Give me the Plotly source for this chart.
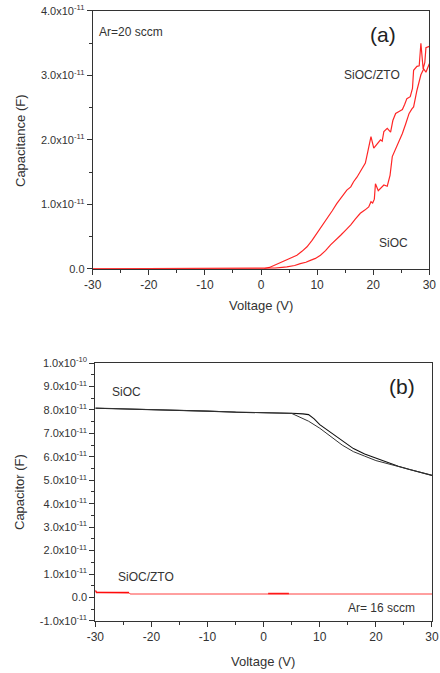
import plotly.graph_objects as go

SCALE = 1e-11

# ---- Panel (a): Ar = 20 sccm ----
a_ztx_v = [-30, -20, -10, 0, 0.5, 1.5, 2.3, 3.5, 4.6, 5.5, 6.4, 7.3, 8.2, 9.1, 10, 10.9, 11.8, 12.7,
           13.5, 14.4, 15.3, 16.0, 16.5, 17.1, 17.7, 18.2, 18.6, 19.0, 19.3, 19.6, 20.1, 20.7, 21.3,
           21.6, 21.9, 22.5, 23.1, 23.5, 24.0, 24.6, 25.2, 25.6, 26.0, 26.6, 27.0, 27.2, 27.8, 28.2,
           28.5, 28.9, 29.2, 29.4, 30]
a_ztx_c = [0, 0, 0, 0, 0.0, 0.02, 0.05, 0.09, 0.13, 0.17, 0.21, 0.27, 0.34, 0.44, 0.55, 0.66, 0.78, 0.90,
           1.01, 1.12, 1.22, 1.27, 1.35, 1.42, 1.51, 1.58, 1.64, 1.80, 1.95, 2.05, 1.87, 1.93, 2.00,
           1.98, 2.13, 2.18, 2.12, 2.30, 2.41, 2.44, 2.47, 2.55, 2.64, 2.67, 2.80, 3.08, 3.14, 3.15,
           3.50, 3.10, 3.20, 3.43, 3.45]

a_sioc_v = [-30, -20, -10, 0, 1.0, 2.5, 4.6, 6, 7, 8, 8.8, 9.7, 10.6, 11.5, 12.4, 13.3, 14.2, 15.1, 16,
            16.8, 17.7, 18.5, 19.2, 19.6, 19.9, 20.2, 20.4, 20.9, 21.4, 21.9, 22.5, 23.0, 23.4, 24.3,
            25.2, 25.8, 26.4, 26.9, 27.2, 27.8, 28.5, 29.0, 29.4, 30]
a_sioc_c = [0, 0, 0, 0, 0, 0.01, 0.03, 0.05, 0.08, 0.10, 0.13, 0.16, 0.21, 0.28, 0.37, 0.44, 0.52, 0.60, 0.68,
            0.77, 0.86, 0.91, 0.96, 1.04, 1.02, 1.08, 1.32, 1.21, 1.26, 1.30, 1.28, 1.45, 1.74, 1.92,
            2.10, 2.25, 2.41, 2.48, 2.51, 2.77, 3.01, 3.10, 3.05, 3.18]

a_yticks = [0, 1, 2, 3, 4]
a_yticktext = ["0.0", "1.0x10<sup>-11</sup>", "2.0x10<sup>-11</sup>",
               "3.0x10<sup>-11</sup>", "4.0x10<sup>-11</sup>"]

# ---- Panel (b): Ar = 16 sccm ----
b_sioc_fwd_v = [-30, -25, -20, -15, -10, -5, 0, 5, 7, 8, 9, 10, 12, 14, 16, 18, 20, 22, 24, 26, 28, 30]
b_sioc_fwd_c = [8.07, 8.04, 8.02, 8.00, 7.95, 7.90, 7.89, 7.86, 7.83, 7.80, 7.62, 7.37, 7.03, 6.68,
                6.35, 6.12, 5.94, 5.76, 5.60, 5.46, 5.33, 5.21]
b_sioc_rev_v = [30, 28, 26, 24, 22, 20, 18, 16, 14, 12, 10, 8, 6, 5, 0, -10, -20, -30]
b_sioc_rev_c = [5.21, 5.33, 5.45, 5.59, 5.72, 5.84, 6.03, 6.22, 6.50, 6.88, 7.22, 7.52, 7.76, 7.85,
                7.88, 7.94, 8.03, 8.08]

b_zto_fwd_v = [-30, -29.8, -24, -23.8, 30]
b_zto_fwd_c = [0.30, 0.22, 0.21, 0.15, 0.15]
b_zto_rev_v = [4.5, 0.8]
b_zto_rev_c = [0.17, 0.17]

b_yticks = [-1, 0, 1, 2, 3, 4, 5, 6, 7, 8, 9, 10]
b_yticktext = ["-1.0x10<sup>-11</sup>", "0.0"] + \
    ["%d.0x10<sup>-11</sup>" % k for k in range(1, 10)] + ["1.0x10<sup>-10</sup>"]

x_ticks = [-30, -20, -10, 0, 10, 20, 30]
x_ticktext = ["-30", "-20", "-10", "0", "10", "20", "30"]

RED = "rgba(255,0,0,0.85)"
FONT = "Liberation Sans, Arial, sans-serif"

def s(lst):
    return [v * SCALE for v in lst]

fig = go.Figure()
fig.add_trace(go.Scatter(x=a_ztx_v, y=s(a_ztx_c), mode="lines", line=dict(color=RED, width=1.2),
                         xaxis="x", yaxis="y", showlegend=False))
fig.add_trace(go.Scatter(x=a_sioc_v, y=s(a_sioc_c), mode="lines", line=dict(color=RED, width=1.2),
                         xaxis="x", yaxis="y", showlegend=False))

fig.add_trace(go.Scatter(x=b_sioc_fwd_v, y=s(b_sioc_fwd_c), mode="lines",
                         line=dict(color="#111111", width=1.1), xaxis="x2", yaxis="y2", showlegend=False))
fig.add_trace(go.Scatter(x=b_sioc_rev_v, y=s(b_sioc_rev_c), mode="lines",
                         line=dict(color="#333333", width=1.0), xaxis="x2", yaxis="y2", showlegend=False))
fig.add_trace(go.Scatter(x=b_zto_fwd_v, y=s(b_zto_fwd_c), mode="lines",
                         line=dict(color="rgba(255,0,0,0.75)", width=1.0), xaxis="x2", yaxis="y2",
                         showlegend=False))
fig.add_trace(go.Scatter(x=b_zto_rev_v, y=s(b_zto_rev_c), mode="lines",
                         line=dict(color=RED, width=1.6), xaxis="x2", yaxis="y2", showlegend=False))
fig.add_trace(go.Scatter(x=b_zto_fwd_v[:3], y=s(b_zto_fwd_c[:3]), mode="lines",
                         line=dict(color=RED, width=1.6), xaxis="x2", yaxis="y2", showlegend=False))

tickfont = dict(family=FONT, size=11, color="#333333")
common_x = dict(range=[-30, 30], tickvals=x_ticks, ticktext=x_ticktext, ticks="outside", ticklen=5,
                tickwidth=1, tickcolor="#333", showline=True, linecolor="#333", linewidth=1, mirror=True,
                showgrid=False, zeroline=False, tickfont=dict(family=FONT, size=12, color="#333333"),
                automargin=False,
                minor=dict(dtick=5, tick0=-30, ticks="outside", ticklen=3, tickcolor="#333"))
common_y = dict(ticks="outside", ticklen=5, tickwidth=1, tickcolor="#333", showline=True,
                linecolor="#333", linewidth=1, mirror=True, showgrid=False, zeroline=False,
                tickfont=tickfont, automargin=False)

fig.update_layout(
    width=440, height=673, autosize=False,
    margin=dict(l=0, r=0, t=0, b=0, pad=0, autoexpand=False),
    plot_bgcolor="white", paper_bgcolor="white",
    xaxis=dict(domain=[0.2107, 0.9757], anchor="y", **common_x),
    yaxis=dict(domain=[0.6007, 0.9837], anchor="x", range=[0, 4 * SCALE],
               tickvals=s(a_yticks), ticktext=a_yticktext,
               minor=dict(dtick=0.5 * SCALE, tick0=0, ticks="outside", ticklen=3, tickcolor="#333"),
               **common_y),
    xaxis2=dict(domain=[0.2166, 0.9818], anchor="y2", **common_x),
    yaxis2=dict(domain=[0.0773, 0.4606], anchor="x2", range=[-1 * SCALE, 10 * SCALE],
                tickvals=s(b_yticks), ticktext=b_yticktext,
                minor=dict(dtick=0.5 * SCALE, tick0=0, ticks="outside", ticklen=3, tickcolor="#333"),
                **common_y),
)

tf = dict(family=FONT, size=12, color="#333333")
ann = [
    # axis titles
    dict(text="Capacitance (F)", x=20, y=141, textangle=-90, font=dict(family=FONT, size=13, color="#333")),
    dict(text="Voltage (V)", x=261, y=306, font=dict(family=FONT, size=13, color="#333")),
    dict(text="Capacitor (F)", x=20, y=492, textangle=-90, font=dict(family=FONT, size=13, color="#333")),
    dict(text="Voltage (V)", x=263, y=661, font=dict(family=FONT, size=13, color="#333")),
]
annotations = []
for a in ann:
    annotations.append(dict(text=a["text"], x=a["x"] / 440, y=1 - a["y"] / 673, xref="paper", yref="paper",
                            showarrow=False, textangle=a.get("textangle", 0), font=a["font"],
                            xanchor="center", yanchor="middle"))

# in-plot labels (data coordinates)
annotations += [
    dict(text="Ar=20 sccm", x=-29.2, y=3.67 * SCALE, xref="x", yref="y", xanchor="left", yanchor="middle",
         showarrow=False, font=tf),
    dict(text="(a)", x=21.7, y=3.63 * SCALE, xref="x", yref="y", xanchor="center", yanchor="middle",
         showarrow=False, font=dict(family=FONT, size=21, color="#222")),
    dict(text="SiOC/ZTO", x=19.8, y=3.0 * SCALE, xref="x", yref="y", xanchor="center", yanchor="middle",
         showarrow=False, font=tf),
    dict(text="SiOC", x=23.6, y=0.40 * SCALE, xref="x", yref="y", xanchor="center", yanchor="middle",
         showarrow=False, font=tf),
    dict(text="SiOC", x=-24.5, y=8.78 * SCALE, xref="x2", yref="y2", xanchor="center", yanchor="middle",
         showarrow=False, font=tf),
    dict(text="SiOC/ZTO", x=-20.9, y=0.88 * SCALE, xref="x2", yref="y2", xanchor="center", yanchor="middle",
         showarrow=False, font=tf),
    dict(text="Ar= 16 sccm", x=21.0, y=-0.44 * SCALE, xref="x2", yref="y2", xanchor="center", yanchor="middle",
         showarrow=False, font=tf),
    dict(text="(b)", x=24.7, y=8.99 * SCALE, xref="x2", yref="y2", xanchor="center", yanchor="middle",
         showarrow=False, font=dict(family=FONT, size=21, color="#222")),
]
fig.update_layout(annotations=annotations)

fig.write_html("out.html", config={"displayModeBar": False},
               post_script="document.body.style.margin='0';document.body.style.overflow='hidden';")
